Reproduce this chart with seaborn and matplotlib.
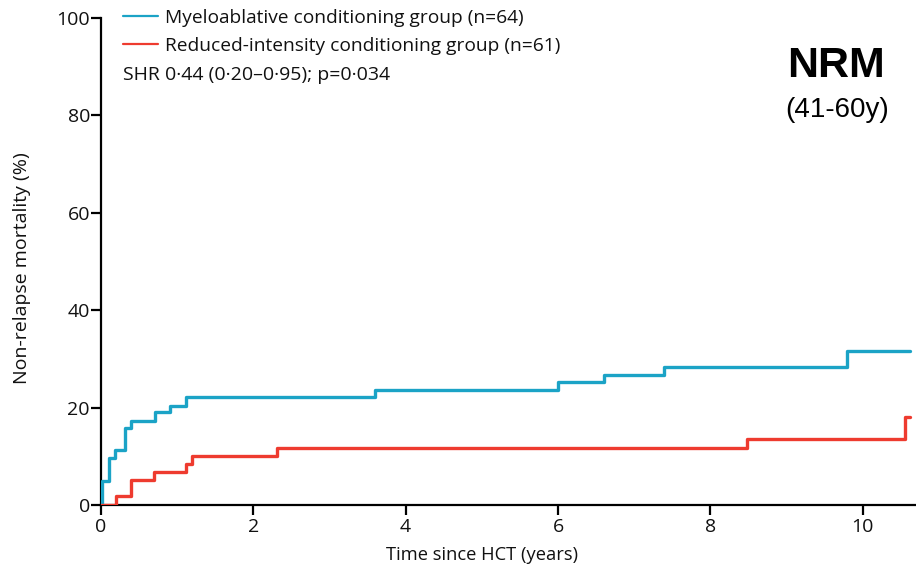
import pandas as pd
import seaborn as sns
import matplotlib.pyplot as plt

# cumulative incidence steps (time in years, NRM in %)
mac_time = [0, 0.01, 0.10, 0.19, 0.31, 0.40, 0.71, 0.91, 1.11, 3.60, 6.00, 6.60, 7.39, 9.80, 10.62]
mac_nrm = [0, 5.0, 9.6, 11.3, 15.9, 17.3, 19.0, 20.4, 22.1, 23.6, 25.2, 26.7, 28.3, 31.7, 31.7]
ric_time = [0, 0.20, 0.40, 0.70, 1.11, 1.20, 2.31, 8.48, 10.56, 10.62]
ric_nrm = [0, 1.9, 5.1, 6.8, 8.5, 10.1, 11.8, 13.6, 18.0, 18.0]

mac_label = 'Myeloablative conditioning group (n=64)'
ric_label = 'Reduced-intensity conditioning group (n=61)'

df = pd.concat([
    pd.DataFrame({'time': mac_time, 'nrm': mac_nrm, 'group': mac_label}),
    pd.DataFrame({'time': ric_time, 'nrm': ric_nrm, 'group': ric_label}),
])

sns.set_style('ticks')
plt.rcParams['font.family'] = ['Open Sans', 'DejaVu Sans']
plt.rcParams['text.color'] = '#111111'
plt.rcParams['axes.labelcolor'] = '#111111'
plt.rcParams['xtick.labelcolor'] = '#111111'
plt.rcParams['ytick.labelcolor'] = '#111111'

fig = plt.figure(figsize=(9.16, 5.68), dpi=100)
ax = fig.add_axes([101 / 916, 63 / 568, 1 - 101 / 916, 487 / 568])

palette = {mac_label: '#1ba3c6', ric_label: '#ee3b2f'}
sns.lineplot(data=df, x='time', y='nrm', hue='group', palette=palette,
             drawstyle='steps-post', estimator=None, linewidth=2.4, ax=ax)

ax.set_xlim(0, 10.7)
ax.set_ylim(0, 100)
ax.set_xticks([0, 2, 4, 6, 8, 10])
ax.set_yticks([0, 20, 40, 60, 80, 100])
ax.tick_params(labelsize=14, length=7.5, width=1.6, color='black')
ax.tick_params(axis='y', pad=0.5)
ax.tick_params(axis='x', pad=1.5)
for s in ['left', 'bottom']:
    ax.spines[s].set_linewidth(1.6)
    ax.spines[s].set_color('black')
    ax.spines[s].set_zorder(0)
sns.despine(ax=ax)

ax.set_xlabel('Time since HCT (years)', fontsize=13.2)
ax.set_ylabel('Non-relapse mortality (%)', fontsize=14)
ax.xaxis.set_label_coords(0.468, -0.084)
ax.yaxis.set_label_coords(-0.086, 0.487)

leg = ax.legend(loc='upper left', bbox_to_anchor=(0.0175, 1.035), frameon=False,
                fontsize=13.8, handlelength=1.82, handletextpad=0.36,
                borderaxespad=0, labelspacing=0.55)
for line in leg.get_lines():
    line.set_linewidth(1.6)

ax.text(0.0266, 0.883, 'SHR 0·44 (0·20–0·95); p=0·034', transform=ax.transAxes,
        fontsize=14, va='center', ha='left')

fig.text(836 / 916, 1 - 66 / 568, 'NRM', fontsize=31, fontweight='bold',
         family=['Liberation Sans', 'DejaVu Sans'], ha='center', va='center',
         color='black')
fig.text(837.5 / 916, 1 - 110 / 568, '(41-60y)', fontsize=20,
         family=['Liberation Sans', 'DejaVu Sans'], ha='center', va='center',
         color='black')

plt.savefig('out.png', dpi=100)
